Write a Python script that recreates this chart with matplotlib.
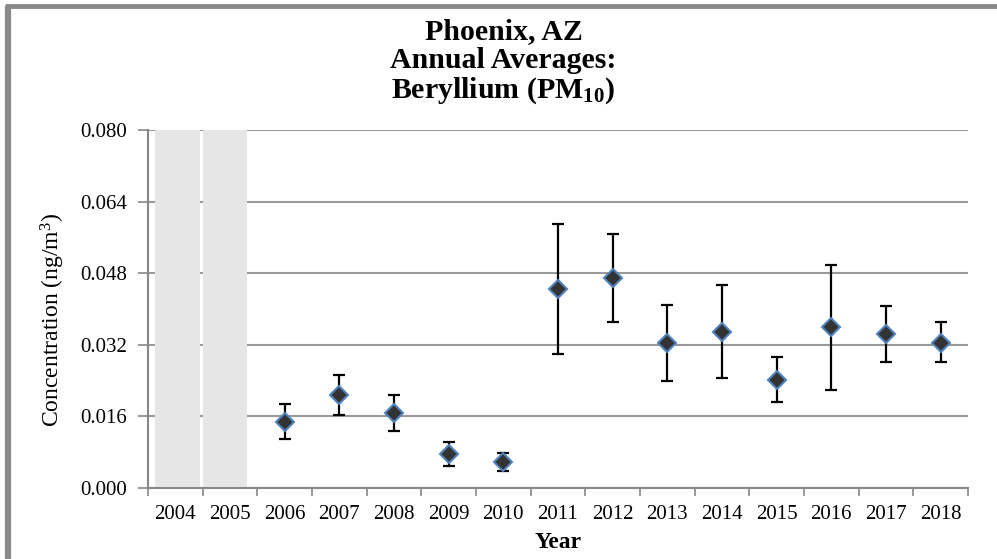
import matplotlib
matplotlib.use("Agg")
import matplotlib.pyplot as plt
from matplotlib.lines import Line2D
import numpy as np

years = ["2004", "2005", "2006", "2007", "2008", "2009", "2010", "2011",
         "2012", "2013", "2014", "2015", "2016", "2017", "2018"]
means = [np.nan, np.nan, 0.0148, 0.0208, 0.0167, 0.0077, 0.0057, 0.0444,
         0.0469, 0.0323, 0.0349, 0.0242, 0.0359, 0.0344, 0.0324]
upper = [np.nan, np.nan, 0.0187, 0.0252, 0.0207, 0.0102, 0.0079, 0.0589,
         0.0567, 0.0409, 0.0454, 0.0292, 0.0499, 0.0406, 0.0370]
lower = [np.nan, np.nan, 0.0109, 0.0163, 0.0127, 0.0050, 0.0037, 0.0299,
         0.0372, 0.0240, 0.0245, 0.0193, 0.0219, 0.0281, 0.0281]
no_data_years = ["2004", "2005"]
y_ticks = [0.000, 0.016, 0.032, 0.048, 0.064, 0.080]
title_lines = ["Phoenix, AZ", "Annual Averages:", r"Beryllium (PM$_{\mathbf{10}}$)"]

plt.rcParams["font.family"] = ["Liberation Serif", "DejaVu Serif"]
plt.rcParams["mathtext.fontset"] = "custom"
plt.rcParams["mathtext.rm"] = "Liberation Serif"
plt.rcParams["mathtext.bf"] = "Liberation Serif:bold"
plt.rcParams["mathtext.it"] = "Liberation Serif:italic"

W, H = 997, 559
fig = plt.figure(figsize=(W / 100, H / 100), dpi=100)
ax = fig.add_axes([148 / W, 1 - 488 / H, (968 - 148) / W, (488 - 130) / H])

x = np.arange(len(years))
means_a = np.array(means)
err_low = means_a - np.array(lower)
err_up = np.array(upper) - means_a

# no-data shading
nd_idx = [years.index(y) for y in no_data_years]
offsets = [0.04, -0.09]
for i, off in zip(nd_idx, offsets):
    ax.bar(i + off, y_ticks[-1], width=0.82, color="#e6e6e6", zorder=1)

ax.errorbar(x, means_a, yerr=[err_low, err_up], fmt="none", ecolor="black",
            elinewidth=1.6, capsize=4, capthick=1.6, zorder=3)
ax.plot(x, means_a, linestyle="none", marker="D", markersize=9.5,
        markerfacecolor="#333333", markeredgecolor="#4f81bd",
        markeredgewidth=1.5, zorder=4)

ax.set_xlim(-0.5, len(years) - 0.5)
ax.set_ylim(0, 0.080)
ax.set_yticks(y_ticks)
ax.set_yticklabels([f"{v:.3f}" for v in y_ticks], fontsize=15)
ax.set_xticks(x)
ax.set_xticklabels(years, fontsize=15)
ax.set_xticks(np.arange(-0.5, len(years)), minor=True)
ax.tick_params(axis="x", which="major", length=0, pad=12)
ax.tick_params(axis="x", which="minor", length=6, width=1.2, color="#888888")
ax.tick_params(axis="y", length=7, width=1.2, color="#888888", pad=8)

ax.grid(axis="y", color="#9a9a9a", linewidth=1.5, zorder=0)
ax.set_axisbelow(True)
for s in ["top", "right"]:
    ax.spines[s].set_visible(False)
for s in ["left", "bottom"]:
    ax.spines[s].set_color("#888888")
    ax.spines[s].set_linewidth(1.5)

ax.set_ylabel(r"Concentration (ng/m$^{3}$)", fontsize=17)
ax.yaxis.set_label_coords((67 - 148) / 820, (488 - 320) / 358)
ax.set_xlabel("Year", fontsize=17, fontweight="bold")
ax.xaxis.set_label_coords(0.5, (488 - 532) / 358)

for line, base in zip(title_lines, [39, 68, 98]):
    fig.text(0.505, 1 - base / H, line, ha="center", va="baseline",
             fontsize=21.5, fontweight="bold")

# frame (left and top edges)
fig.add_artist(Line2D([7.5 / W, 7.5 / W], [0, 1 - 6 / H], transform=fig.transFigure,
                      color="#8a8a8a", linewidth=4.5, solid_capstyle="butt"))
fig.add_artist(Line2D([5 / W, 1], [1 - 6 / H, 1 - 6 / H], transform=fig.transFigure,
                      color="#8a8a8a", linewidth=3.5, solid_capstyle="butt"))

fig.savefig("out.png", dpi=100)
